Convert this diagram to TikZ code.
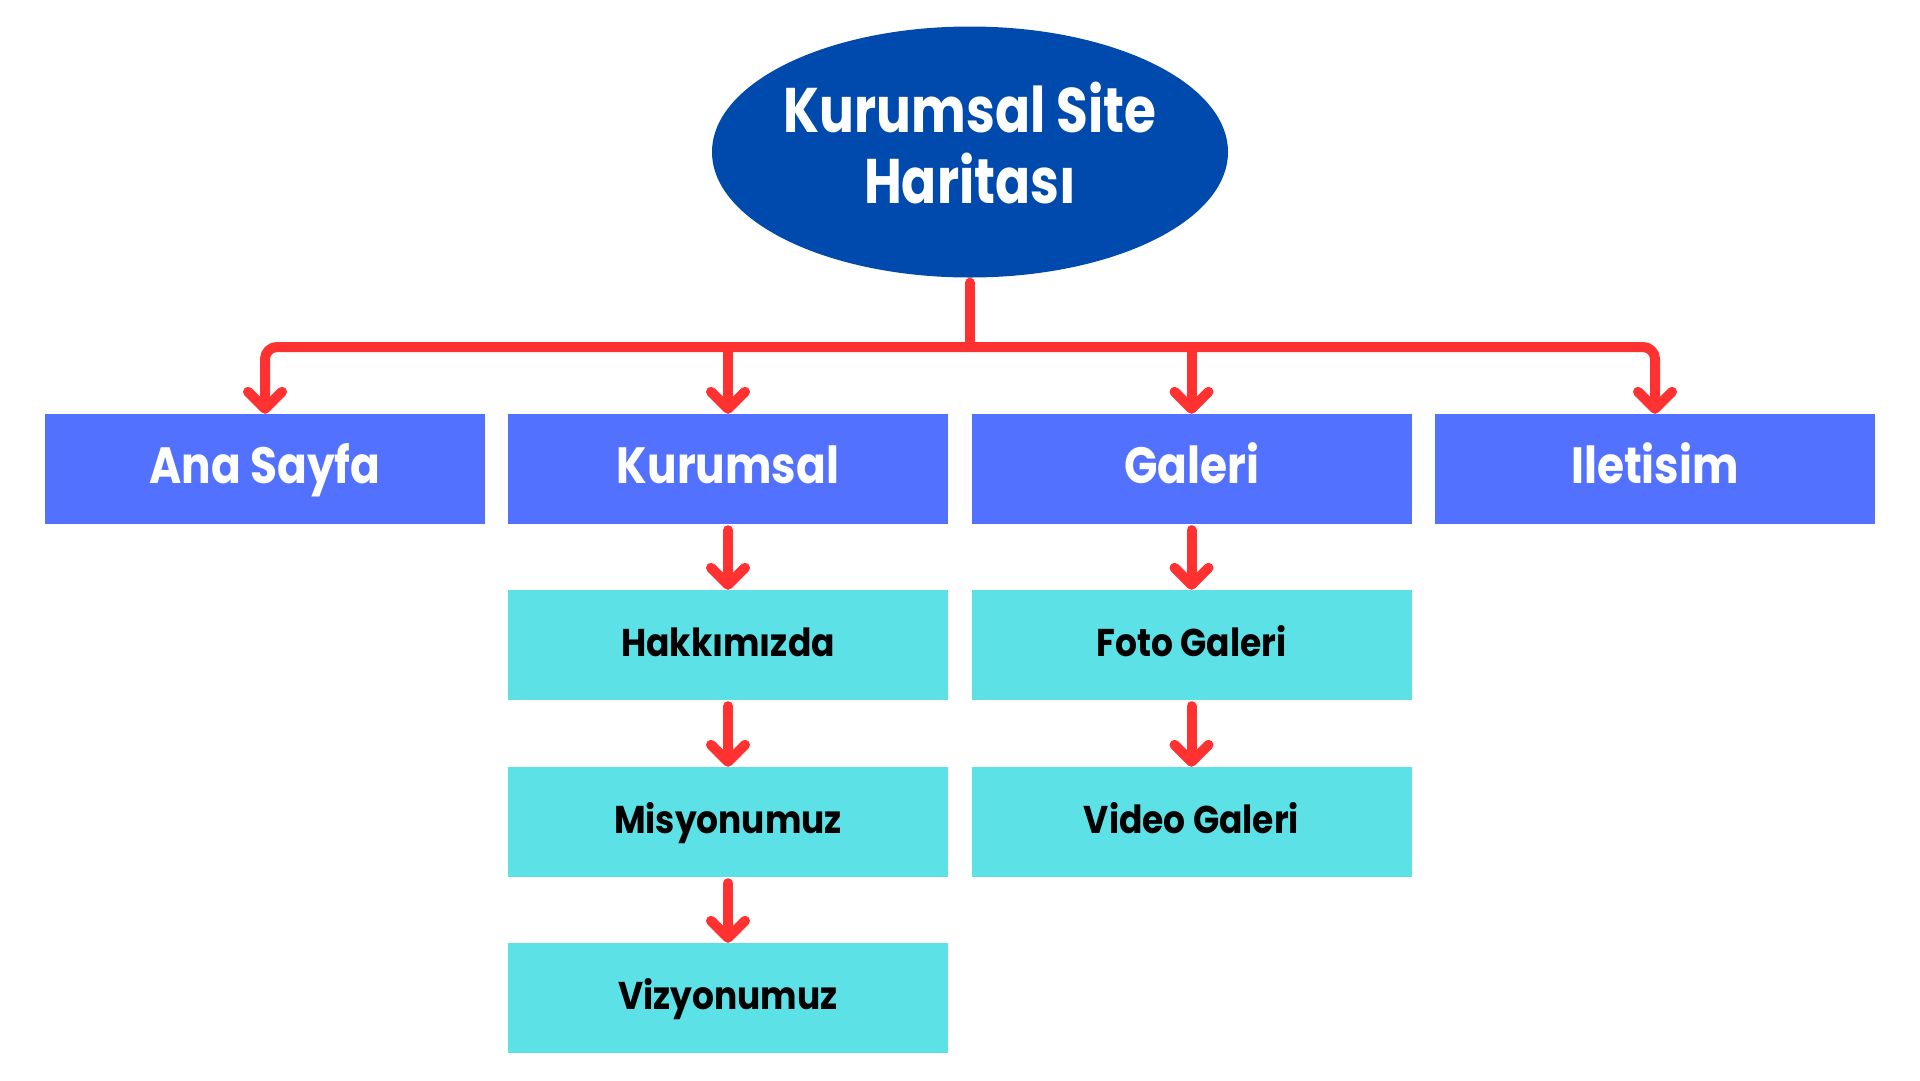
\documentclass[tikz,border=0pt]{standalone}
\usepackage{fontspec}
\setmainfont{Poppins}
\newfontfamily\rootfont{Poppins}[FakeStretch=0.82]
\newfontfamily\mainboxfont{Poppins}[FakeStretch=0.86]
\newfontfamily\subboxfont{Poppins}[FakeStretch=0.89]
\usetikzlibrary{shapes.geometric,arrows.meta}
\definecolor{rootblue}{HTML}{004AAD}
\definecolor{boxblue}{HTML}{5271FF}
\definecolor{boxcyan}{HTML}{5CE1E6}
\definecolor{linered}{HTML}{FF3131}
\tikzset{
  rootnode/.style={ellipse, fill=rootblue, minimum width=516pt, minimum height=251pt, inner sep=0pt},
  roottext/.style={anchor=base, inner sep=0pt, text=white, font=\rootfont\fontsize{63}{71}\selectfont\bfseries},
  mainbox/.style={rectangle, fill=boxblue, minimum width=440pt, minimum height=110pt, inner sep=0pt,
    text height=29pt, text depth=0pt,
    text=white, font=\mainboxfont\fontsize{51}{56}\selectfont\bfseries},
  subbox/.style={rectangle, fill=boxcyan, minimum width=440pt, minimum height=110pt, inner sep=0pt,
    text height=22pt, text depth=0pt,
    text=black, font=\subboxfont\fontsize{38.7}{44}\selectfont\bfseries},
  conn/.style={draw=linered, line width=10pt, line cap=round, line join=round},
  arr/.style={conn, -{Straight Barb[length=17pt, width=34pt, round]}},
}
\begin{document}
\begin{tikzpicture}[x=1pt, y=-1pt]
\useasboundingbox (0,0) rectangle (1920,1080);
\fill[white] (0,0) rectangle (1920,1080);
\node[rootnode] (root) at (970,152) {};
\node[roottext] (roottitleA) at (970,132.5) {Kurumsal Site};
\node[roottext] (roottitleB) at (970,203.5) {Haritası};
\node[mainbox] (ana) at (265,469) {Ana Sayfa};
\node[mainbox] (kur) at (728,469) {Kurumsal};
\node[mainbox] (gal) at (1191.5,469) {Galeri};
\node[mainbox] (ilet) at (1655,469) {Iletisim};
\node[subbox] (hak) at (728,645) {Hakkımızda};
\node[subbox] (mis) at (728,822) {Misyonumuz};
\node[subbox] (viz) at (728,998) {Vizyonumuz};
\node[subbox] (foto) at (1191.5,645) {Foto Galeri};
\node[subbox] (video) at (1191.5,822) {Video Galeri};
\coordinate (bus) at (970,347);
\draw[conn] ([yshift=-5pt]root.south) -- (bus);
\draw[arr, rounded corners=12pt] (bus) -| (ana.north);
\draw[arr, rounded corners=12pt] (bus) -| (ilet.north);
\draw[arr] (kur.north |- bus) -- (kur.north);
\draw[arr] (gal.north |- bus) -- (gal.north);
\draw[arr] ([yshift=-6pt]kur.south) -- (hak.north);
\draw[arr] ([yshift=-6pt]hak.south) -- (mis.north);
\draw[arr] ([yshift=-6pt]mis.south) -- (viz.north);
\draw[arr] ([yshift=-6pt]gal.south) -- (foto.north);
\draw[arr] ([yshift=-6pt]foto.south) -- (video.north);
\end{tikzpicture}
\end{document}
